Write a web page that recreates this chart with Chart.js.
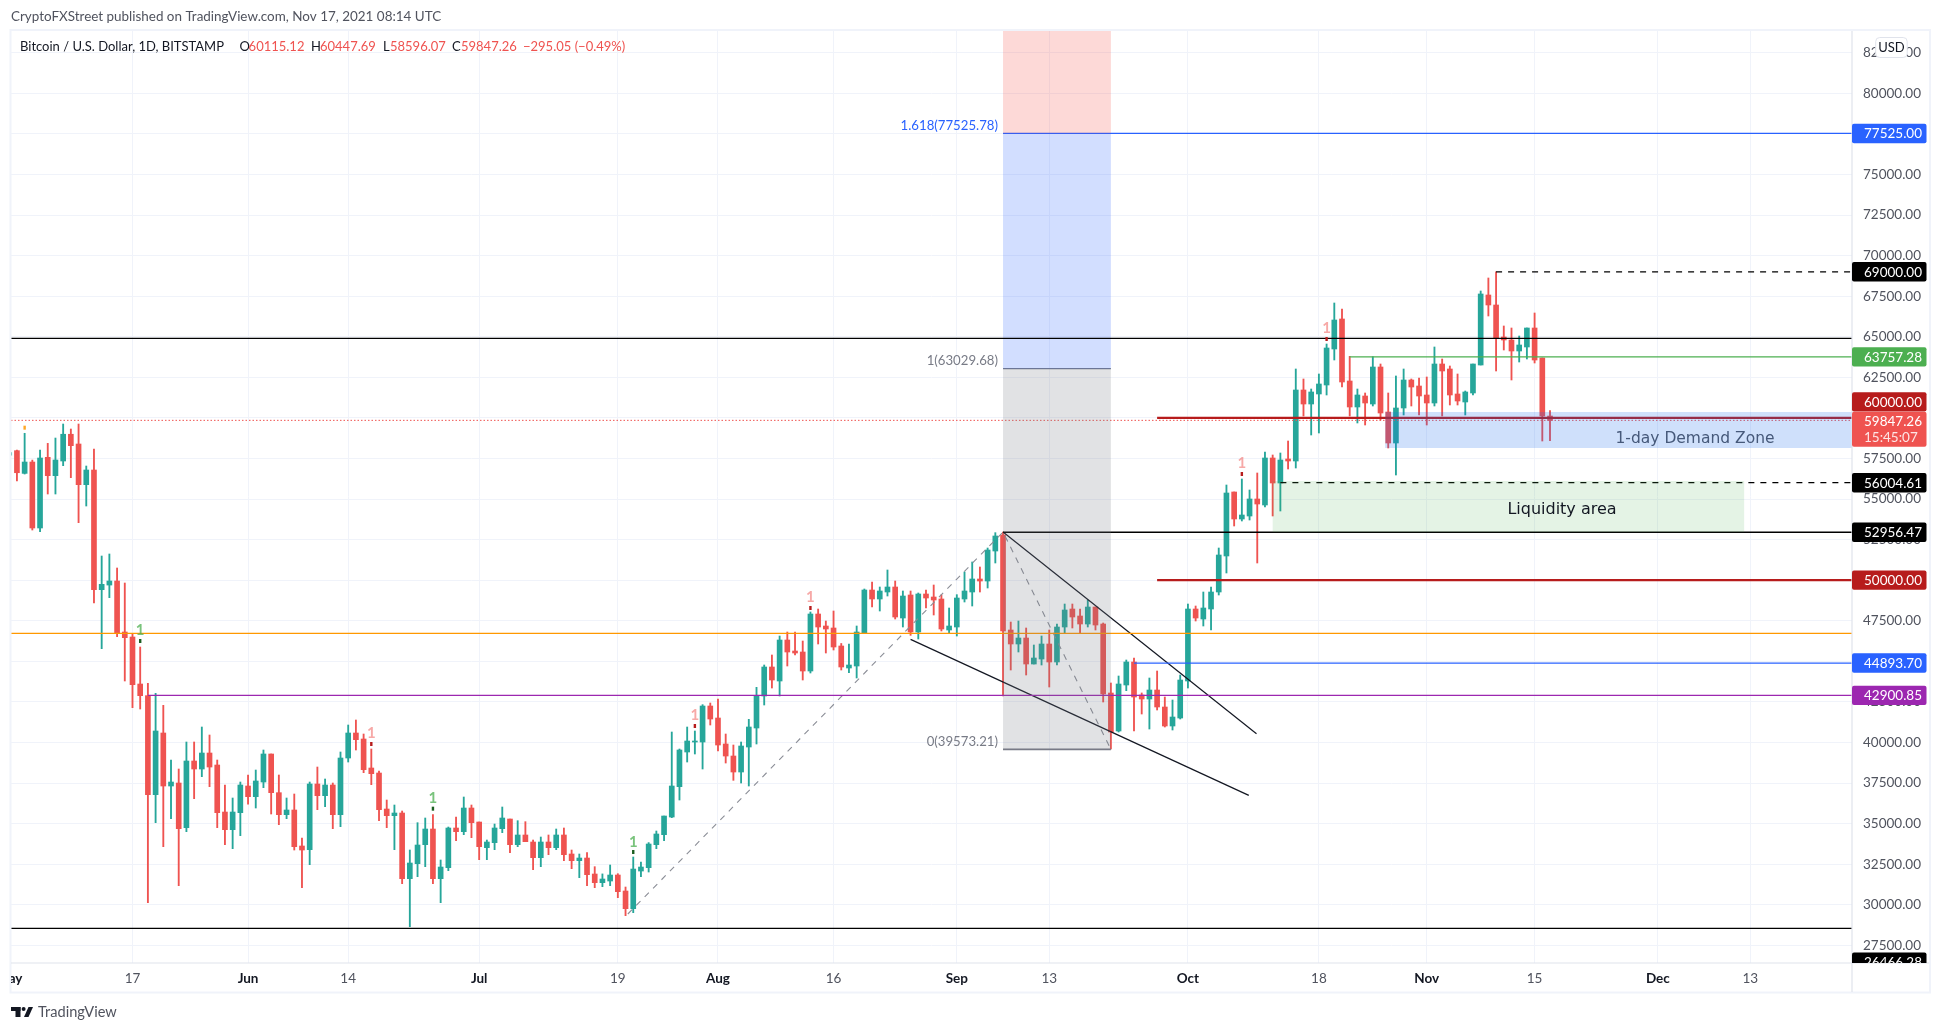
<!DOCTYPE html>
<html><head><meta charset="utf-8">
<style>html,body{margin:0;padding:0;background:#fff}canvas{display:block}</style>
<script src="https://cdn.jsdelivr.net/npm/chart.js@4/dist/chart.umd.js"></script>
</head><body><canvas id="c" width="1941" height="1032"></canvas>
<script>
// ---- Data: daily OHLC, first candle is 1 May 2021 (day -16, day 0 = 17 May)
const firstDay = -16;
const opens = [57700,
57980,56580,57280,53215,57569,56438,57342,58991,58390,55884,56788,49415,49700,49949,46806,46498,43602,42883,36783,40583,37317,37501,34749,38857,38364,39350,38611,35714,34626,35673,
37317,36659,37563,39289,36906,35550,35838,33620,33394,37440,36721,37378,35550,39042,40583,40213,38426,38118,35899,35488,35653,31606,32530,33701,34667,31606,32284,34729,34503,35961,
35098,33517,33824,34688,35283,33701,34298,33866,32900,33866,33517,34298,33127,32716,32880,31894,31360,31463,31832,30847,29758,32078,32284,33701,34318,35406,37275,39412,40028,40028,42246,
41507,39905,39165,38179,39720,40891,42863,44650,43787,46313,45635,45574,44403,47915,47176,47053,45944,44588,44711,46744,49394,48840,49271,49579,47669,49086,46806,49148,48963,48840,46929,
47114,48840,49271,50072,49948,51797,52783,46929,46067,46436,44834,45142,46067,44958,47114,48223,47792,47299,48346,47299,43047,40706,43541,44958,42924,42678,43232,42185,41014,41507,
43787,48223,47607,48223,49271,51490,55433,53769,53953,55002,54632,57528,55987,57466,57343,61718,60855,61472,62026,64244,66093,62273,60671,61348,60855,63135,60362,58452,60609,62334,61964,
61410,60917,63320,63012,61472,60979,61533,63258,67572,66956,64984,64799,64121,64368,65538,63690,60115.12];
const highs = [57900,
58020,59050,57400,58020,58430,58758,59622,59314,59622,57034,58082,51489,51613,50750,49825,46724,45882,43643,43027,42287,38919,38364,40028,40028,40952,40459,38919,37378,36577,37563,
37995,38302,39535,39289,37995,36577,36824,34112,37563,38487,37748,37501,39412,41075,41384,40521,39597,38241,36454,36146,35776,33373,35057,35345,35550,32757,34790,35406,36639,36146,
35098,33989,34975,36023,35283,35180,35119,33989,34174,34298,34667,34729,33373,33127,33209,32346,31900,32449,31914,31093,32942,32634,33830,34544,35468,40644,39597,40952,40706,42329,42431,
42678,40521,39843,40028,41425,43396,44773,45389,46560,46806,46806,46251,48039,48223,47484,48100,46100,46067,47176,49456,49887,49579,50627,49949,49333,49333,49210,49394,49702,49100,48285,
49107,50503,51120,50811,51982,52927,52968,47422,47484,47053,46005,46560,46929,47299,48531,48531,48223,48778,48346,47361,43664,44095,45081,45204,43050,43972,44403,42801,42616,44156,
48531,48408,49271,49579,51982,55864,55433,56234,55556,56604,57897,57713,57836,58575,63012,62396,61779,62704,64553,67079,66709,63792,61779,61533,63772,63320,61533,62581,63012,62396,62458,
62519,64368,63628,63197,62704,61656,63320,67818,68620,69000,65662,65538,65045,65538,66463,63690,60447.69];
const lows = [57600,
56110,56540,53090,52989,55309,55309,57055,56315,53543,54569,48593,45779,48922,46519,43787,42144,42061,30128,35057,33578,35304,31175,34503,36536,37892,37275,34749,33701,33455,34256,
36200,35961,37214,35591,34934,35304,33373,31052,32469,35858,36043,34688,34811,38795,39535,38138,37399,35180,34749,33394,31299,28649,31730,32346,31299,30128,32099,33948,34318,34133,
32778,32778,33394,34441,33209,33578,33887,32161,32346,33085,33394,32716,32223,31668,31175,31052,31115,31175,30436,29327,29512,31730,32017,33455,33948,35365,36454,38795,39289,38364,41075,
39473,38733,37666,37501,37317,39905,42308,43355,42863,44711,45389,43848,44280,46067,45512,45697,44464,44300,43972,46744,48346,48100,49024,47607,47114,46600,46375,48285,47854,46868,46744,
46560,48655,48408,49271,49517,51058,42863,44464,45574,44156,44834,44773,43417,44773,46744,47053,46744,47114,46929,42493,39597,40644,43191,40706,41753,40829,42000,40952,40767,41445,
43355,47484,47176,46929,49086,50442,53338,53646,53707,51058,54508,53954,54262,56850,56911,60116,58945,59068,61410,63567,61903,60116,59685,59561,60732,59869,58144,56480,60177,60732,60177,
59561,60732,60116,60794,60794,60177,61410,63258,66278,62889,64183,62334,63443,63628,63381,58575,58596.07];
const closes = [57856,
56620,57280,53215,57527,56438,57404,58991,58287,55884,56788,49415,49743,49949,46724,46457,43561,42883,36783,40706,37317,37563,34688,38857,38364,39350,38487,35673,34626,35714,37378,
36659,37625,39289,36906,35550,35838,33578,33373,37440,36721,37378,35550,39042,40583,40172,38323,38076,35858,35488,35653,31606,32572,33681,34667,31606,32325,34729,34503,35961,35057,
33578,33866,34729,35345,33701,34298,33887,32900,33866,33517,34298,33085,32716,32880,31853,31360,31586,31832,30806,29758,32201,32325,33743,34360,35468,37317,39535,40090,40090,42246,41445,
39843,39165,38179,39782,40953,42904,44650,43848,46313,45574,45512,44403,47915,47114,46991,45882,44650,44773,46806,49394,48840,49333,49579,47730,49024,46806,49148,48901,48778,46991,47176,
48901,49333,50072,49948,51859,52722,46868,46067,46436,44834,45204,46067,44958,47114,48162,47730,47299,48346,47237,42986,40644,43602,44958,42801,42678,43232,42185,41014,41568,43848,
48223,47669,48285,49271,51551,55371,53769,54016,55002,54693,57528,55987,57405,57343,61718,60855,61595,62088,64306,66031,62211,60671,61410,60917,63135,60300,58452,60609,62334,61903,61348,
60917,63320,62889,61410,61040,61595,63320,67634,66956,64922,64799,64121,64491,65538,63566,60116,59847.26];

const yTickValues = [27500,30000,32500,35000,37500,40000,42500,45000,47500,50000,52500,55000,57500,60000,62500,65000,67500,70000,72500,75000,77500,80000,82500];
const xTickDays   = [0,15,28,45,63,76,91,107,119,137,154,168,182,198,210];
const xTickLabels = ['17','Jun','14','Jul','19','Aug','16','Sep','13','Oct','18','Nov','15','Dec','13'];
const clippedTickDay = -16, clippedTickLabel = 'May';

const fibLevels = [39573.21, 63029.68, 77525.78];
const fibDays = [113, 127];
const fibLabels = ['0(39573.21)','1(63029.68)','1.618(77525.78)'];
const demandZone = [58144, 60362], demandDays = [162.6, 224];
const liquidityZone = [52956.47, 56110], liquidityDays = [148, 209.2];

const zigzagDays = [64.3, 113, 127], zigzagValues = [29430, 52968, 39573.21];
const upperWedgeDays = [113, 145.9], upperWedgeValues = [52968, 40541];
const lowerWedgeDays = [101, 144.9], lowerWedgeValues = [46354, 36741];

const signalDays   = [1,31,39,65,73,88,144,155];
const signalValues = [46909,40603,36577,33887,41692,48983,57240,65538];
const signalMarks  = [46252,39905,35920,33250,41014,48285,56542,64861];
const signalUp     = [true,false,true,true,false,false,false,false];

const pillValues = [77525,69000,63757.28,60000,56004.61,52956.47,50000,44893.70,42900.85,26466.28];
const pillTexts  = ['77525.00','69000.00','63757.28','60000.00','56004.61','52956.47','50000.00','44893.70','42900.85','26466.28'];
const lastPrice = 59847.26, lastCountdown = '15:45:07';

// ---- Style and layout
const FONT = 'Lato';
const GREEN='#26a69a', RED='#ef5350', GRID='#f0f3fa', AXIS='#e0e3eb', TXT='#50535e';
const pillColors = ['#2962ff','#000','#4caf50','#b71c1c','#000','#000','#b71c1c','#2962ff','#9c27b0','#000'];
const pillShift  = [0,0,0,-16,0,0,0,0,0,0];

const xMin=-15.77, xMax=223.2, yMin=26411, yMax=83900;
const candleX = opens.map((_,i)=>firstDay+i);
const up = opens.map((o,i)=>closes[i]>=o);
const candleColors = up.map(u=>u?GREEN:RED);

const seg=(xs,ys)=>xs.map((x,i)=>({x,y:ys[i]}));
const hline=(v,from,color,width,dash)=>({type:'line',data:seg([from,xMax],[v,v]),borderColor:color,borderWidth:width,borderDash:dash||[],pointRadius:0,order:1,parsing:false,tension:0});
const path=(xs,ys,color,width,dash)=>({type:'line',data:seg(xs,ys),borderColor:color,borderWidth:width,borderDash:dash||[],pointRadius:0,order:1,parsing:false,tension:0});

const datasets=[
 {type:'bar',label:'wick',data:candleX.map((x,i)=>({x,y:[lows[i],highs[i]]})),backgroundColor:candleColors,barThickness:1.2,grouped:false,order:10},
 {type:'bar',label:'body',data:candleX.map((x,i)=>({x,y:[opens[i],closes[i]]})),backgroundColor:candleColors,barThickness:5,grouped:false,order:9},
 hline(64900,xMin,'#000',1.4),
 hline(28546,xMin,'#000',1.4),
 hline(46724,xMin,'#ff9800',1.2),
 hline(42900.85,2,'#9c27b0',1.2),
 hline(fibLevels[2],fibDays[0],'#2962ff',1.2),
 hline(69000,177,'#000',1.2,[6,6]),
 hline(63757.28,158,'#4caf50',1.2),
 hline(60000,133,'#b71c1c',2.2),
 hline(50000,133,'#b71c1c',2.2),
 hline(56004.61,149,'#000',1.2,[6,6]),
 hline(52956.47,113,'#000',1.4),
 hline(44893.70,130,'#2962ff',1.2),
 hline(lastPrice,xMin,'#ef5350',1,[1.5,2]),
 path(fibDays,[fibLevels[0],fibLevels[0]],'#787b86',1.6),
 path(fibDays,[fibLevels[1],fibLevels[1]],'#787b86',1.2),
 path(zigzagDays,zigzagValues,'#8a8d96',1.1,[6,6]),
 path(upperWedgeDays,upperWedgeValues,'#131722',1.2),
 path(lowerWedgeDays,lowerWedgeValues,'#131722',1.2),
];

function txt(ctx,s,x,y,color,font,align){ctx.fillStyle=color;ctx.font=font;ctx.textAlign=align||'left';ctx.textBaseline='middle';ctx.fillText(s,x,y);}
function rrect(ctx,x,y,w,h,r){ctx.beginPath();ctx.roundRect(x,y,w,h,r);ctx.fill();}

const overlay={id:'overlay',
 beforeDatasetDraw(chart,args){
  // first line dataset: lay translucent drawings above candles and below lines
  if(args.index!==2) return;
  const {ctx,chartArea:a,scales:{x,y}}=chart;
  const rect=(d0,d1,v0,v1,c)=>{const X0=x.getPixelForValue(d0),X1=x.getPixelForValue(d1),Y0=y.getPixelForValue(v1),Y1=y.getPixelForValue(v0);ctx.fillStyle=c;ctx.fillRect(X0,Y0,X1-X0,Y1-Y0);};
  ctx.save();ctx.beginPath();ctx.rect(a.left,a.top,a.width,a.height);ctx.clip();
  rect(fibDays[0],fibDays[1],fibLevels[2],yMax,'rgba(244,67,54,.2)');
  rect(fibDays[0],fibDays[1],fibLevels[1],fibLevels[2],'rgba(41,98,255,.21)');
  rect(fibDays[0],fibDays[1],fibLevels[0],fibLevels[1],'rgba(120,123,134,.22)');
  rect(demandDays[0],demandDays[1],demandZone[0],demandZone[1],'rgba(30,110,235,.21)');
  rect(liquidityDays[0],liquidityDays[1],liquidityZone[0],liquidityZone[1],'rgba(76,175,80,.15)');
  ctx.restore();
 },
 afterDraw(chart){
  const {ctx,chartArea:a,scales:{x,y}}=chart;
  ctx.save();
  // frame
  ctx.strokeStyle=GRID;ctx.lineWidth=2;ctx.strokeRect(10.5,30,1919.5,962.5);
  ctx.strokeStyle=AXIS;ctx.lineWidth=1.2;ctx.beginPath();ctx.moveTo(a.left,a.bottom);ctx.lineTo(1929,a.bottom);ctx.moveTo(a.right,31);ctx.lineTo(a.right,992);ctx.stroke();
  // clipped May label
  ctx.save();ctx.beginPath();ctx.rect(a.left,a.bottom,200,30);ctx.clip();
  txt(ctx,clippedTickLabel,x.getPixelForValue(clippedTickDay),978.5,'#131722','bold 13.5px '+FONT,'center');ctx.restore();
  // signals
  signalDays.forEach((d,i)=>{
    const X=x.getPixelForValue(d);
    txt(ctx,'1',X,y.getPixelForValue(signalValues[i]),signalUp[i]?'rgba(76,175,80,.75)':'rgba(239,83,80,.5)','bold 15px '+FONT,'center');
    ctx.fillStyle=signalUp[i]?'#1b5e20':'#b71c1c';
    ctx.fillRect(X-1.2,y.getPixelForValue(signalMarks[i])-2,2.4,4);
  });
  ctx.fillStyle='#ffa726';ctx.fillRect(x.getPixelForValue(-14)-1.2,y.getPixelForValue(59396)-2,2.4,4);
  // fib labels
  txt(ctx,fibLabels[2],998,y.getPixelForValue(fibLevels[2])-8,'#2962ff','13.2px '+FONT,'right');
  txt(ctx,fibLabels[1],998,y.getPixelForValue(fibLevels[1])-8,'#787b86','13.2px '+FONT,'right');
  txt(ctx,fibLabels[0],998,y.getPixelForValue(fibLevels[0])-8,'#787b86','13.2px '+FONT,'right');
  // zone labels
  txt(ctx,'1-day Demand Zone',1695,439.3,'#46597a','15.5px "DejaVu Sans"','center');
  txt(ctx,'Liquidity area',1562,510,'#131722','16px "DejaVu Sans"','center');
  // price pills
  ctx.save();ctx.beginPath();ctx.rect(a.right,a.top,78,a.height);ctx.clip();
  pillValues.forEach((v,i)=>{
    const Y=y.getPixelForValue(v)+pillShift[i];
    ctx.fillStyle=pillColors[i];rrect(ctx,a.right,Y-9.7,74.5,19.4,2);
    txt(ctx,pillTexts[i],1864,Y+.5,'#fff','13.5px '+FONT,'left');
  });
  ctx.fillStyle=RED;rrect(ctx,a.right,411.7,74.5,35,2);
  txt(ctx,lastPrice.toFixed(2),1864,421.7,'#fff','13.5px '+FONT,'left');
  txt(ctx,lastCountdown,1864,437.3,'rgba(255,255,255,.85)','13.5px '+FONT,'left');
  ctx.restore();
  // USD badge
  ctx.fillStyle='#fff';ctx.strokeStyle=AXIS;ctx.lineWidth=1;ctx.beginPath();ctx.roundRect(1875.7,37.5,31.5,20,4);ctx.fill();ctx.stroke();
  txt(ctx,'USD',1891.5,47.5,'#131722','13px '+FONT,'center');
  // header + legend
  txt(ctx,'CryptoFXStreet published on TradingView.com, Nov 17, 2021 08:14 UTC',11,17,TXT,'13.45px '+FONT);
  txt(ctx,'Bitcoin / U.S. Dollar, 1D, BITSTAMP',20,47,'#131722','13px '+FONT);
  [['O',239.6,'#131722'],['60115.12',248.6,RED],['H',311,'#131722'],['60447.69',320,RED],['L',383,'#131722'],['58596.07',390,RED],['C',452,'#131722'],['59847.26',461,RED],['\u2212295.05 (\u22120.49%)',523,RED]]
    .forEach(p=>txt(ctx,p[0],p[1],47,p[2],'13px '+FONT));
  // footer logo
  ctx.fillStyle='#131722';
  ctx.fillRect(11,1007,9.5,4);ctx.fillRect(15.5,1007,5,10);
  ctx.beginPath();ctx.arc(23.6,1009,2,0,7);ctx.fill();
  ctx.beginPath();ctx.moveTo(24,1017);ctx.lineTo(28.5,1017);ctx.lineTo(33,1007);ctx.lineTo(28.5,1007);ctx.closePath();ctx.fill();
  txt(ctx,'TradingView',38,1012.5,TXT,'14.6px '+FONT);
  ctx.restore();
 }};

new Chart(document.getElementById('c'),{
 type:'bar',
 data:{datasets},
 plugins:[overlay],
 options:{
  responsive:false,animation:false,devicePixelRatio:1,
  layout:{padding:{left:11,top:30,right:11,bottom:39}},
  plugins:{legend:{display:false},tooltip:{enabled:false},title:{display:false}},
  scales:{
   x:{type:'linear',min:xMin,max:xMax,offset:false,
      grid:{color:GRID,drawTicks:false,offset:false},border:{display:false},
      afterBuildTicks:s=>{s.ticks=xTickDays.map(v=>({value:v}));},
      afterFit:s=>{s.height=30;},
      ticks:{autoSkip:false,maxRotation:0,padding:8,
        callback:v=>xTickLabels[xTickDays.indexOf(v)],
        color:c=>/^\d/.test(xTickLabels[c.index])?TXT:'#131722',
        font:c=>({family:FONT,size:13.5,weight:/^\d/.test(xTickLabels[c.index])?'normal':'bold'})}},
   y:{type:'linear',position:'right',min:yMin,max:yMax,
      grid:{color:GRID,drawTicks:false},border:{display:false},
      afterBuildTicks:s=>{s.ticks=yTickValues.map(v=>({value:v}));},
      afterFit:s=>{s.width=78;},
      ticks:{autoSkip:false,padding:11,color:TXT,font:{family:FONT,size:13.5},callback:v=>v.toFixed(2)}}
  }
 }
});
</script></body></html>
